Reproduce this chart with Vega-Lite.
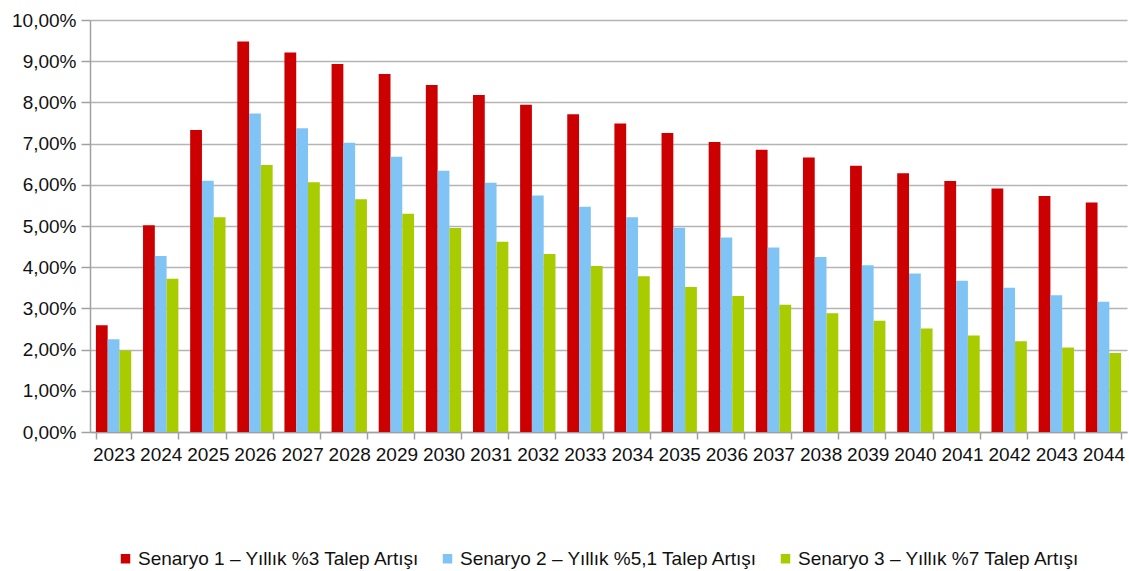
{
  "$schema": "https://vega.github.io/schema/vega-lite/v6.json",
  "autosize": {"type": "none"},
  "width": 1037,
  "height": 412,
  "padding": {"left": 90, "top": 20, "right": 2, "bottom": 139},
  "background": "white",
  "config": {
    "locale": {"number": {"decimal": ",", "thousands": ".", "grouping": [3], "currency": ["", " TL"]}},
    "view": {"stroke": null},
    "font": "Liberation Sans"
  },
  "data": {
    "values": [
      {"year": "2023", "s": "Senaryo 1 – Yıllık %3 Talep Artışı", "v": 0.0259},
      {"year": "2023", "s": "Senaryo 2 – Yıllık %5,1 Talep Artışı", "v": 0.0225},
      {"year": "2023", "s": "Senaryo 3 – Yıllık %7 Talep Artışı", "v": 0.0198},
      {"year": "2024", "s": "Senaryo 1 – Yıllık %3 Talep Artışı", "v": 0.0502},
      {"year": "2024", "s": "Senaryo 2 – Yıllık %5,1 Talep Artışı", "v": 0.0427},
      {"year": "2024", "s": "Senaryo 3 – Yıllık %7 Talep Artışı", "v": 0.0372},
      {"year": "2025", "s": "Senaryo 1 – Yıllık %3 Talep Artışı", "v": 0.0733},
      {"year": "2025", "s": "Senaryo 2 – Yıllık %5,1 Talep Artışı", "v": 0.0610},
      {"year": "2025", "s": "Senaryo 3 – Yıllık %7 Talep Artışı", "v": 0.0521},
      {"year": "2026", "s": "Senaryo 1 – Yıllık %3 Talep Artışı", "v": 0.0948},
      {"year": "2026", "s": "Senaryo 2 – Yıllık %5,1 Talep Artışı", "v": 0.0773},
      {"year": "2026", "s": "Senaryo 3 – Yıllık %7 Talep Artışı", "v": 0.0648},
      {"year": "2027", "s": "Senaryo 1 – Yıllık %3 Talep Artışı", "v": 0.0921},
      {"year": "2027", "s": "Senaryo 2 – Yıllık %5,1 Talep Artışı", "v": 0.0737},
      {"year": "2027", "s": "Senaryo 3 – Yıllık %7 Talep Artışı", "v": 0.0606},
      {"year": "2028", "s": "Senaryo 1 – Yıllık %3 Talep Artışı", "v": 0.0893},
      {"year": "2028", "s": "Senaryo 2 – Yıllık %5,1 Talep Artışı", "v": 0.0702},
      {"year": "2028", "s": "Senaryo 3 – Yıllık %7 Talep Artışı", "v": 0.0565},
      {"year": "2029", "s": "Senaryo 1 – Yıllık %3 Talep Artışı", "v": 0.0869},
      {"year": "2029", "s": "Senaryo 2 – Yıllık %5,1 Talep Artışı", "v": 0.0668},
      {"year": "2029", "s": "Senaryo 3 – Yıllık %7 Talep Artışı", "v": 0.0530},
      {"year": "2030", "s": "Senaryo 1 – Yıllık %3 Talep Artışı", "v": 0.0842},
      {"year": "2030", "s": "Senaryo 2 – Yıllık %5,1 Talep Artışı", "v": 0.0634},
      {"year": "2030", "s": "Senaryo 3 – Yıllık %7 Talep Artışı", "v": 0.0495},
      {"year": "2031", "s": "Senaryo 1 – Yıllık %3 Talep Artışı", "v": 0.0818},
      {"year": "2031", "s": "Senaryo 2 – Yıllık %5,1 Talep Artışı", "v": 0.0605},
      {"year": "2031", "s": "Senaryo 3 – Yıllık %7 Talep Artışı", "v": 0.0462},
      {"year": "2032", "s": "Senaryo 1 – Yıllık %3 Talep Artışı", "v": 0.0794},
      {"year": "2032", "s": "Senaryo 2 – Yıllık %5,1 Talep Artışı", "v": 0.0574},
      {"year": "2032", "s": "Senaryo 3 – Yıllık %7 Talep Artışı", "v": 0.0432},
      {"year": "2033", "s": "Senaryo 1 – Yıllık %3 Talep Artışı", "v": 0.0771},
      {"year": "2033", "s": "Senaryo 2 – Yıllık %5,1 Talep Artışı", "v": 0.0547},
      {"year": "2033", "s": "Senaryo 3 – Yıllık %7 Talep Artışı", "v": 0.0403},
      {"year": "2034", "s": "Senaryo 1 – Yıllık %3 Talep Artışı", "v": 0.0749},
      {"year": "2034", "s": "Senaryo 2 – Yıllık %5,1 Talep Artışı", "v": 0.0521},
      {"year": "2034", "s": "Senaryo 3 – Yıllık %7 Talep Artışı", "v": 0.0378},
      {"year": "2035", "s": "Senaryo 1 – Yıllık %3 Talep Artışı", "v": 0.0726},
      {"year": "2035", "s": "Senaryo 2 – Yıllık %5,1 Talep Artışı", "v": 0.0496},
      {"year": "2035", "s": "Senaryo 3 – Yıllık %7 Talep Artışı", "v": 0.0352},
      {"year": "2036", "s": "Senaryo 1 – Yıllık %3 Talep Artışı", "v": 0.0704},
      {"year": "2036", "s": "Senaryo 2 – Yıllık %5,1 Talep Artışı", "v": 0.0472},
      {"year": "2036", "s": "Senaryo 3 – Yıllık %7 Talep Artışı", "v": 0.0330},
      {"year": "2037", "s": "Senaryo 1 – Yıllık %3 Talep Artışı", "v": 0.0685},
      {"year": "2037", "s": "Senaryo 2 – Yıllık %5,1 Talep Artışı", "v": 0.0448},
      {"year": "2037", "s": "Senaryo 3 – Yıllık %7 Talep Artışı", "v": 0.0309},
      {"year": "2038", "s": "Senaryo 1 – Yıllık %3 Talep Artışı", "v": 0.0666},
      {"year": "2038", "s": "Senaryo 2 – Yıllık %5,1 Talep Artışı", "v": 0.0425},
      {"year": "2038", "s": "Senaryo 3 – Yıllık %7 Talep Artışı", "v": 0.0288},
      {"year": "2039", "s": "Senaryo 1 – Yıllık %3 Talep Artışı", "v": 0.0646},
      {"year": "2039", "s": "Senaryo 2 – Yıllık %5,1 Talep Artışı", "v": 0.0405},
      {"year": "2039", "s": "Senaryo 3 – Yıllık %7 Talep Artışı", "v": 0.0270},
      {"year": "2040", "s": "Senaryo 1 – Yıllık %3 Talep Artışı", "v": 0.0628},
      {"year": "2040", "s": "Senaryo 2 – Yıllık %5,1 Talep Artışı", "v": 0.0385},
      {"year": "2040", "s": "Senaryo 3 – Yıllık %7 Talep Artışı", "v": 0.0251},
      {"year": "2041", "s": "Senaryo 1 – Yıllık %3 Talep Artışı", "v": 0.0609},
      {"year": "2041", "s": "Senaryo 2 – Yıllık %5,1 Talep Artışı", "v": 0.0367},
      {"year": "2041", "s": "Senaryo 3 – Yıllık %7 Talep Artışı", "v": 0.0234},
      {"year": "2042", "s": "Senaryo 1 – Yıllık %3 Talep Artışı", "v": 0.0591},
      {"year": "2042", "s": "Senaryo 2 – Yıllık %5,1 Talep Artışı", "v": 0.0350},
      {"year": "2042", "s": "Senaryo 3 – Yıllık %7 Talep Artışı", "v": 0.0220},
      {"year": "2043", "s": "Senaryo 1 – Yıllık %3 Talep Artışı", "v": 0.0573},
      {"year": "2043", "s": "Senaryo 2 – Yıllık %5,1 Talep Artışı", "v": 0.0332},
      {"year": "2043", "s": "Senaryo 3 – Yıllık %7 Talep Artışı", "v": 0.0205},
      {"year": "2044", "s": "Senaryo 1 – Yıllık %3 Talep Artışı", "v": 0.0557},
      {"year": "2044", "s": "Senaryo 2 – Yıllık %5,1 Talep Artışı", "v": 0.0316},
      {"year": "2044", "s": "Senaryo 3 – Yıllık %7 Talep Artışı", "v": 0.0192}
    ]
  },
  "mark": {"type": "bar"},
  "encoding": {
    "x": {
      "field": "year", "type": "nominal", "title": null,
      "scale": {"paddingInner": 0.25, "paddingOuter": 0.125},
      "axis": {
        "labelAngle": 0, "labelFontSize": 19, "labelColor": "#111111", "labelFont": "Liberation Sans",
        "labelPadding": 6, "tickColor": "#a0a0a0", "tickSize": 7, "tickWidth": 1.5, "tickBand": "extent",
        "domainColor": "#a0a0a0", "domainWidth": 1.5, "grid": false
      }
    },
    "xOffset": {"field": "s", "type": "nominal"},
    "y": {
      "field": "v", "type": "quantitative", "title": null,
      "scale": {"domain": [0, 0.1], "nice": false},
      "axis": {
        "values": [0, 0.01, 0.02, 0.03, 0.04, 0.05, 0.06, 0.07, 0.08, 0.09, 0.1],
        "format": ".2%", "labelFontSize": 19, "labelColor": "#111111", "labelFont": "Liberation Sans",
        "labelPadding": 5, "tickSize": 9, "tickColor": "#a0a0a0", "tickWidth": 1.5,
        "domainColor": "#a0a0a0", "domainWidth": 1.5,
        "grid": true, "gridColor": "#b4b4b4", "gridWidth": 1.5
      }
    },
    "color": {
      "field": "s", "type": "nominal", "title": null,
      "scale": {"range": ["#CC0000", "#80C4F5", "#A8CC00"]},
      "legend": {
        "orient": "none", "direction": "horizontal", "legendX": 26, "legendY": 529,
        "symbolType": "square", "symbolSize": 90, "symbolStrokeWidth": 0,
        "labelFontSize": 19, "labelColor": "#111111", "labelFont": "Liberation Sans",
        "labelOffset": 3, "columnPadding": 18, "labelLimit": 400
      }
    }
  }
}
